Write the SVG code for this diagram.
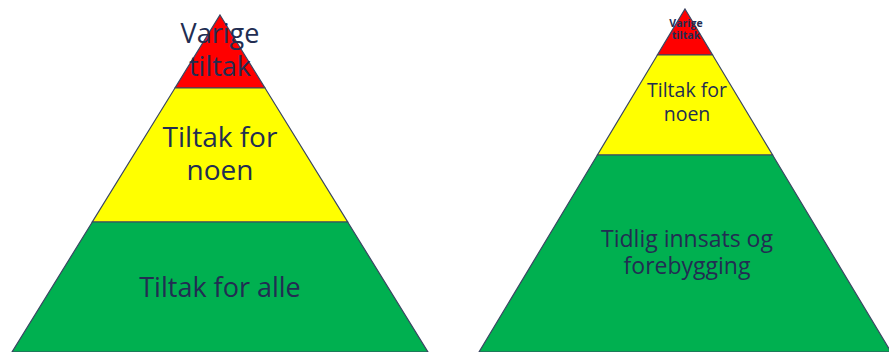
<svg xmlns="http://www.w3.org/2000/svg" width="889" height="352" viewBox="0 0 889 352">
<style>
.lay{stroke:#3a4562;stroke-width:1.2;stroke-linejoin:miter}
.r{fill:#ff0000}.y{fill:#ffff00}.g{fill:#00b050}
text{font-family:"Open Sans","Noto Sans","Liberation Sans",sans-serif;fill:#222d52;text-anchor:middle}
</style>
<rect width="889" height="352" fill="#ffffff"/>
<g id="left-pyramid">
<g id="left-top">
<polygon class="lay r" points="220,15 265,88 175,88"/>
<text x="220" y="43" font-size="27">Varige</text>
<text x="220" y="76" font-size="27">tiltak</text>
</g>
<g id="left-middle">
<polygon class="lay y" points="175,88 265,88 347.7,222 92.3,222"/>
<text x="220" y="147" font-size="28">Tiltak for</text>
<text x="220" y="180" font-size="28">noen</text>
</g>
<g id="left-bottom">
<polygon class="lay g" points="92.3,222 347.7,222 428,352 12,352"/>
<text x="220" y="297" font-size="27">Tiltak for alle</text>
</g>
</g>
<g id="right-pyramid">
<g id="right-top">
<polygon class="lay r" points="685,9 712.6,55 657.4,55"/>
<text x="686" y="27" font-size="10.5" font-weight="bold">Varige</text>
<text x="686" y="39" font-size="10.5" font-weight="bold">tiltak</text>
</g>
<g id="right-middle">
<polygon class="lay y" points="657.4,55 712.6,55 772.6,155 597.4,155"/>
<text x="687" y="97" font-size="19.5">Tiltak for</text>
<text x="687" y="121" font-size="19.5">noen</text>
</g>
<g id="right-bottom">
<polygon class="lay g" points="597.4,155 772.6,155 891,352 479,352"/>
<text x="687" y="247" font-size="23">Tidlig innsats og</text>
<text x="687" y="274" font-size="23">forebygging</text>
</g>
</g>
<g id="connectors"/>
</svg>
